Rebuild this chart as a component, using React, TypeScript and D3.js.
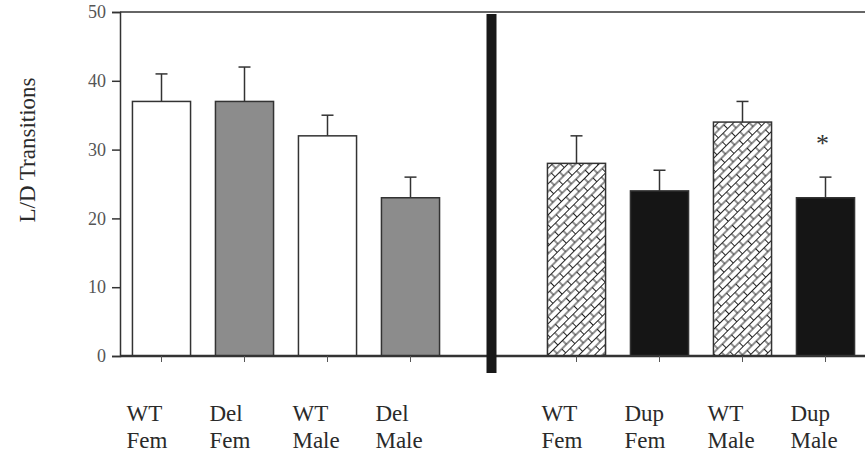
import React, { useEffect, useRef } from 'react';
import * as d3 from 'd3';

// two panels of four bars, a gap slot between them for the divider
const groups = ['WT Fem', 'Del Fem', 'WT Male', 'Del Male', '', 'WT Fem ', 'Dup Fem', 'WT Male ', 'Dup Male'];
const labelTop = ['WT', 'Del', 'WT', 'Del', '', 'WT', 'Dup', 'WT', 'Dup'];
const labelBottom = ['Fem', 'Fem', 'Male', 'Male', '', 'Fem', 'Fem', 'Male', 'Male'];
const means = [37, 37, 32, 23, NaN, 28, 24, 34, 23];
const errors = [4, 5, 3, 3, NaN, 4, 3, 3, 3];
const fills = ['white', 'grey', 'white', 'grey', '', 'brick', 'black', 'brick', 'black'];
const significant = [false, false, false, false, false, false, false, false, true];
const yTicks = [0, 10, 20, 30, 40, 50];

const App: React.FC = () => {
  const svgRef = useRef<SVGSVGElement | null>(null);

  useEffect(() => {
    if (!svgRef.current) return;
    const width = 865;
    const height = 457;
    const svg = d3.select(svgRef.current);
    svg.selectAll('*').remove();
    svg.attr('width', width).attr('height', height);

    const x = d3.scaleBand<string>().domain(groups).range([120, 867]).paddingInner(0.3).paddingOuter(0.15);
    const y = d3.scaleLinear().domain([0, 50]).range([356, 12]);

    // brick hatch used for the WT bars on the right
    const defs = svg.append('defs');
    const pat = defs
      .append('pattern')
      .attr('id', 'brick')
      .attr('patternUnits', 'userSpaceOnUse')
      .attr('width', 13)
      .attr('height', 11)
      .attr('patternTransform', 'rotate(-45)');
    pat.append('rect').attr('width', 13).attr('height', 11).attr('fill', 'white');
    pat
      .append('path')
      .attr('d', 'M0,0.5H13M0,6H13M1,0.5V6M7.5,6V11')
      .attr('stroke', '#222')
      .attr('stroke-width', 1)
      .attr('fill', 'none');

    const fillOf = (f: string) =>
      f === 'grey' ? '#8c8c8c' : f === 'black' ? '#151515' : f === 'brick' ? 'url(#brick)' : '#fff';

    const font = '"Liberation Serif", "Times New Roman", serif';

    // frame: top line and y axis
    svg
      .append('line')
      .attr('x1', 120)
      .attr('x2', width)
      .attr('y1', y(50))
      .attr('y2', y(50))
      .attr('stroke', '#333')
      .attr('stroke-width', 1.5);

    const yAxis = svg
      .append('g')
      .attr('transform', 'translate(120,0)')
      .call(d3.axisLeft(y).tickValues(yTicks).tickSize(8).tickPadding(6));
    yAxis.attr('font-family', font).attr('font-size', 18);
    yAxis.select('.domain').attr('stroke', '#333').attr('stroke-width', 1.5);
    yAxis.selectAll('.tick line').attr('stroke', '#333').attr('stroke-width', 1.5);
    yAxis.selectAll('.tick text').attr('fill', '#555');

    const data = groups.map((g, i) => ({
      g,
      mean: means[i],
      err: errors[i],
      fill: fills[i],
      sig: significant[i],
      top: labelTop[i],
      bottom: labelBottom[i],
    }));
    const bars = data.filter((d) => !isNaN(d.mean));

    // error bars (drawn first so the bar covers the stem)
    const eb = svg.append('g');
    bars.forEach((d) => {
      const cx = (x(d.g) as number) + x.bandwidth() / 2;
      eb.append('line')
        .attr('x1', cx)
        .attr('x2', cx)
        .attr('y1', y(d.mean))
        .attr('y2', y(d.mean + d.err))
        .attr('stroke', '#333')
        .attr('stroke-width', 1.5);
      eb.append('line')
        .attr('x1', cx - 6)
        .attr('x2', cx + 6)
        .attr('y1', y(d.mean + d.err))
        .attr('y2', y(d.mean + d.err))
        .attr('stroke', '#333')
        .attr('stroke-width', 1.5);
    });

    svg
      .append('g')
      .selectAll('rect')
      .data(bars)
      .enter()
      .append('rect')
      .attr('x', (d) => x(d.g) as number)
      .attr('y', (d) => y(d.mean))
      .attr('width', x.bandwidth())
      .attr('height', (d) => y(0) - y(d.mean))
      .attr('fill', (d) => fillOf(d.fill))
      .attr('stroke', '#333')
      .attr('stroke-width', 1.5);

    // baseline and small ticks under each bar
    svg
      .append('line')
      .attr('x1', 120)
      .attr('x2', width)
      .attr('y1', y(0))
      .attr('y2', y(0))
      .attr('stroke', '#333')
      .attr('stroke-width', 2.5);
    svg
      .append('g')
      .selectAll('line')
      .data(bars)
      .enter()
      .append('line')
      .attr('x1', (d) => (x(d.g) as number) + x.bandwidth() / 2)
      .attr('x2', (d) => (x(d.g) as number) + x.bandwidth() / 2)
      .attr('y1', y(0))
      .attr('y2', y(0) + 6)
      .attr('stroke', '#555')
      .attr('stroke-width', 1);

    // thick divider between the two panels
    const gapX = (x('') as number) + x.bandwidth() / 2;
    svg
      .append('rect')
      .attr('x', gapX - 7)
      .attr('y', y(50) + 2)
      .attr('width', 10)
      .attr('height', y(0) - y(50) + 15)
      .attr('fill', '#181818');

    // significance star
    bars
      .filter((d) => d.sig)
      .forEach((d) => {
        svg
          .append('text')
          .attr('x', (x(d.g) as number) + x.bandwidth() / 2 - 3)
          .attr('y', y(d.mean + d.err) - 25)
          .attr('text-anchor', 'middle')
          .attr('font-family', font)
          .attr('font-size', 26)
          .attr('fill', '#333')
          .text('*');
      });

    // category labels
    const lab = svg
      .append('g')
      .selectAll('text')
      .data(bars)
      .enter()
      .append('text')
      .attr('font-family', font)
      .attr('font-size', 23)
      .attr('fill', '#2a2a2a');
    lab
      .append('tspan')
      .attr('x', (d) => (x(d.g) as number) - 6)
      .attr('y', 421)
      .text((d) => d.top);
    lab
      .append('tspan')
      .attr('x', (d) => (x(d.g) as number) - 6)
      .attr('y', 448)
      .text((d) => d.bottom);

    svg
      .append('text')
      .attr('transform', `translate(35,${(y(0) + y(50)) / 2 - 34}) rotate(-90)`)
      .attr('text-anchor', 'middle')
      .attr('font-family', font)
      .attr('font-size', 23)
      .attr('fill', '#2a2a2a')
      .text('L/D Transitions');
  }, []);

  return <svg ref={svgRef} style={{ position: 'absolute', left: 0, top: 0, background: '#fff' }}></svg>;
};

export default App;
